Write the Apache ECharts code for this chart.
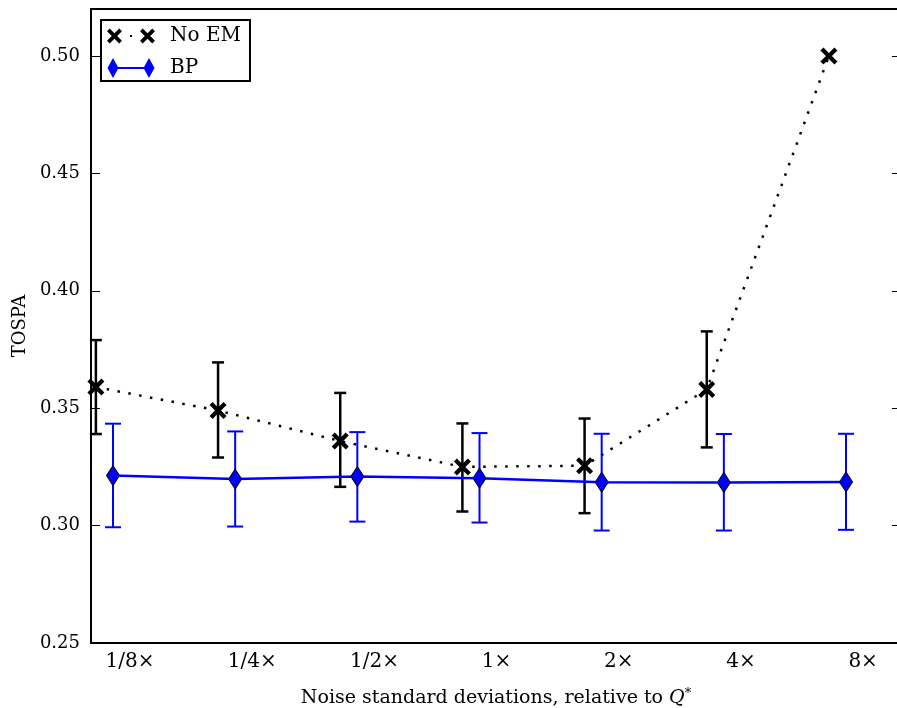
<!DOCTYPE html>
<html>
<head>
<meta charset="utf-8">
<script src="https://cdn.jsdelivr.net/npm/echarts@6/dist/echarts.min.js"></script>
<style>
  html, body { margin: 0; padding: 0; background: #fff; overflow: hidden; }
  #chart { width: 905px; height: 708px; }
</style>
</head>
<body>
<div id="chart"></div>
<script>
// noise levels (x categories)
var xLabels = ['1/8×', '1/4×', '1/2×', '1×', '2×', '4×', '8×'];

// No EM: mean and error bar ends
var noEmMean = [0.359, 0.349, 0.336, 0.325, 0.3255, 0.358, 0.500];
var noEmLow  = [0.339, 0.329, 0.3165, 0.306, 0.3053, 0.3333, null];
var noEmHigh = [0.379, 0.3695, 0.3565, 0.3435, 0.3456, 0.3827, null];

// BP: mean and error bar ends
var bpMean = [0.3213, 0.3198, 0.3209, 0.3202, 0.3185, 0.3184, 0.3186];
var bpLow  = [0.2993, 0.2996, 0.3017, 0.3013, 0.2979, 0.2979, 0.2982];
var bpHigh = [0.3434, 0.3401, 0.3398, 0.3394, 0.3391, 0.339, 0.3391];

var FONT = 'DejaVu Serif';
var NOEM_SHIFT = -0.28, BP_SHIFT = -0.14;

function crossPath(cx, cy, h, d) {
    return 'M' + (cx - h + d) + ',' + (cy - h - d) + 'L' + (cx + h + d) + ',' + (cy + h - d) +
        'L' + (cx + h - d) + ',' + (cy + h + d) + 'L' + (cx - h - d) + ',' + (cy - h + d) + 'Z' +
        'M' + (cx + h + d) + ',' + (cy - h + d) + 'L' + (cx - h + d) + ',' + (cy + h + d) +
        'L' + (cx - h - d) + ',' + (cy + h - d) + 'L' + (cx + h - d) + ',' + (cy - h - d) + 'Z';
}

var xSymbol = 'path://' + crossPath(8, 8, 7, 1.5);
var noEmIcon = 'path://' + crossPath(7, 10, 6.3, 1.4) + crossPath(41, 10, 6.3, 1.4) +
    'M23,9L25,9L25,11L23,11Z' + 'M24,0L24.05,0L24,0.05Z' + 'M24,20L24.05,20L24,19.95Z';
var bpIcon = 'path://M0.5,10L6,0L11.5,10L6,20Z M11,9L37,9L37,11L11,11Z M36.5,10L42,0L47.5,10L42,20Z';

function points(means, shift) {
    return means.map(function (v, i) { return [i + shift, v]; });
}

function errorBars(low, high, shift, color, capW, lw, z) {
    var data = [];
    low.forEach(function (l, i) {
        if (l != null) data.push([i + shift, l, high[i]]);
    });
    return {
        type: 'custom',
        z: z,
        data: data,
        encode: { x: 0, y: [1, 2] },
        renderItem: function (params, api) {
            var x = api.value(0);
            var lo = api.coord([x, api.value(1)]);
            var hi = api.coord([x, api.value(2)]);
            var st = { stroke: color, lineWidth: lw };
            return {
                type: 'group',
                children: [
                    { type: 'line', shape: { x1: lo[0], y1: lo[1], x2: hi[0], y2: hi[1] }, style: st },
                    { type: 'line', shape: { x1: lo[0] - capW / 2, y1: lo[1], x2: lo[0] + capW / 2, y2: lo[1] }, style: st },
                    { type: 'line', shape: { x1: hi[0] - capW / 2, y1: hi[1], x2: hi[0] + capW / 2, y2: hi[1] }, style: st }
                ]
            };
        }
    };
}

var chart = echarts.init(document.getElementById('chart'));

var spine = { onZero: false, lineStyle: { color: '#000', width: 2 } };

var option = {
    animation: false,
    textStyle: { fontFamily: FONT, color: '#000' },
    // plot box runs past the right edge of the 897px window, as in the original
    grid: { left: 91, right: 4, top: 9, bottom: 65, outerBoundsMode: 'none' },
    legend: {
        left: 101,
        top: 20,
        orient: 'vertical',
        padding: [6, 9, 3, 6],
        itemGap: 12,
        itemWidth: 48,
        itemHeight: 20,
        borderColor: '#000',
        borderWidth: 2,
        backgroundColor: '#fff',
        selectedMode: false,
        textStyle: { fontFamily: FONT, fontSize: 20, color: '#000', padding: [0, 0, 0, 10] },
        data: [
            { name: 'No EM', icon: noEmIcon, itemStyle: { color: '#000', borderWidth: 0 } },
            { name: 'BP', icon: bpIcon, itemStyle: { color: '#0000ff', borderWidth: 0 } }
        ]
    },
    xAxis: [{
        type: 'value',
        min: -0.32,
        max: 6.31,
        splitLine: { show: false },
        axisLine: spine,
        axisTick: { show: false },
        axisLabel: {
            customValues: xLabels.map(function (_, i) { return i; }),
            formatter: function (v) { return xLabels[Math.round(v)]; },
            fontFamily: FONT,
            fontSize: 20,
            color: '#000',
            margin: 9
        },
        name: '{a|Noise standard deviations, relative to }{q|Q}{s|*}',
        nameLocation: 'middle',
        nameGap: 44,
        nameTextStyle: {
            rich: {
                a: { fontFamily: FONT, fontSize: 19, color: '#000', lineHeight: 23 },
                q: { fontFamily: FONT, fontSize: 19, fontStyle: 'italic', color: '#000', lineHeight: 23 },
                s: { fontFamily: FONT, fontSize: 13, color: '#000', lineHeight: 23, verticalAlign: 'top' }
            }
        }
    }, {
        type: 'value',
        position: 'top',
        min: -0.32,
        max: 6.31,
        splitLine: { show: false },
        axisLine: spine,
        axisTick: { show: false },
        axisLabel: { show: false }
    }],
    yAxis: [{
        type: 'value',
        position: 'left',
        min: 0.25,
        max: 0.52,
        interval: 0.05,
        splitLine: { show: false },
        axisLine: spine,
        axisTick: { inside: true, length: 9, lineStyle: { color: '#000', width: 1 } },
        axisLabel: {
            showMaxLabel: false,
            formatter: function (v) { return v.toFixed(2); },
            fontFamily: FONT,
            fontSize: 18,
            color: '#000',
            margin: 11
        },
        name: 'TOSPA',
        nameLocation: 'middle',
        nameGap: 62,
        nameTextStyle: { fontFamily: FONT, fontSize: 18, color: '#000' }
    }, {
        type: 'value',
        position: 'right',
        min: 0.25,
        max: 0.52,
        interval: 0.05,
        splitLine: { show: false },
        axisLine: spine,
        axisTick: { inside: true, length: 9, lineStyle: { color: '#000', width: 1 } },
        axisLabel: { show: false }
    }],
    series: [
        errorBars(noEmLow, noEmHigh, NOEM_SHIFT, '#000', 12, 2.5, 2),
        {
            name: 'No EM',
            type: 'line',
            z: 3,
            data: points(noEmMean, NOEM_SHIFT),
            symbol: xSymbol,
            symbolSize: 17,
            itemStyle: { color: '#000' },
            lineStyle: { color: '#000', width: 2.5, type: [2.5, 8.5] }
        },
        errorBars(bpLow, bpHigh, BP_SHIFT, '#0000ff', 16, 2, 4),
        {
            name: 'BP',
            type: 'line',
            z: 5,
            data: points(bpMean, BP_SHIFT),
            symbol: 'diamond',
            symbolSize: [13, 20],
            itemStyle: { color: '#0000ff', borderColor: '#000', borderWidth: 1 },
            lineStyle: { color: '#0000ff', width: 2.5 }
        }
    ]
};

chart.setOption(option);
</script>
</body>
</html>
